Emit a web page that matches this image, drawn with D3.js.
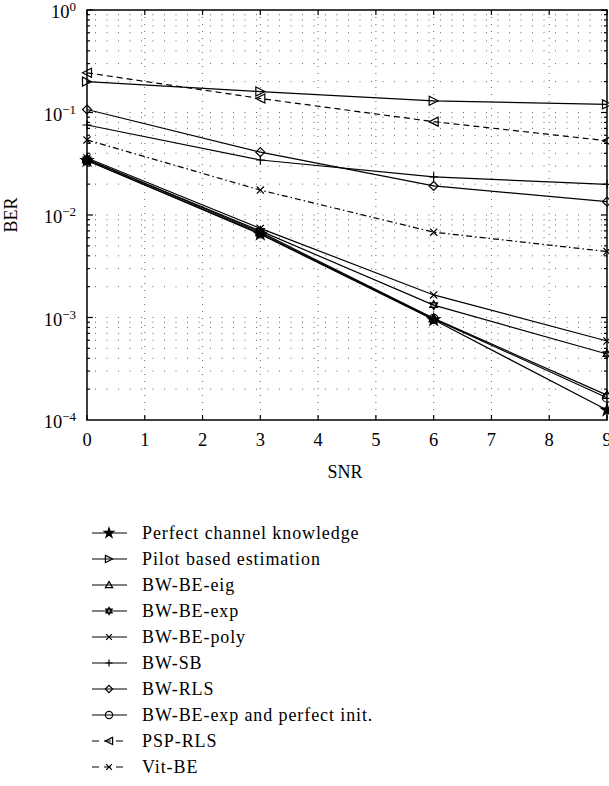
<!DOCTYPE html>
<html>
<head>
<meta charset="utf-8">
<script src="https://cdn.jsdelivr.net/npm/d3@7"></script>
<style>
  body { margin: 0; background: #fff; }
  svg text { font-family: "Liberation Serif", "DejaVu Serif", serif; fill: #000; }
</style>
</head>
<body>
<svg id="chart" width="609" height="786"></svg>
<script>
// SNR points where the curves were simulated
const snr = [0, 3, 6, 9]

// BER values
const perfect     = [0.034, 0.0065, 0.00095, 0.000125]
const pilot       = [0.200, 0.160, 0.130, 0.120]
const bwEig       = [0.035, 0.0068, 0.00098, 0.000175]
const bwExp       = [0.035, 0.0070, 0.00132, 0.00044]
const bwPoly      = [0.036, 0.0074, 0.00166, 0.00059]
const bwSB        = [0.0755, 0.0344, 0.0236, 0.0199]
const bwRLS       = [0.107, 0.041, 0.0192, 0.0135]
const bwExpInit   = [0.034, 0.0066, 0.00097, 0.000165]
const pspRLS      = [0.244, 0.137, 0.0814, 0.053]
const vitBE       = [0.054, 0.0175, 0.0068, 0.0044]

const names = ["Perfect channel knowledge", "Pilot based estimation", "BW-BE-eig", "BW-BE-exp",
  "BW-BE-poly", "BW-SB", "BW-RLS", "BW-BE-exp and perfect init.", "PSP-RLS", "Vit-BE"]
const values = [perfect, pilot, bwEig, bwExp, bwPoly, bwSB, bwRLS, bwExpInit, pspRLS, vitBE]
const markers = ["star", "triRight", "triUp", "hexagram", "cross", "plus", "diamond", "circle", "triLeft", "cross"]
const dashes = [null, null, null, null, null, null, null, null, "6,4", "6,3,1.5,3"]

const xTicks = [0, 1, 2, 3, 4, 5, 6, 7, 8, 9]
const yExps = [0, -1, -2, -3, -4]

const margin = {left: 87, right: 607, top: 10, bottom: 420}
const svg = d3.select("#chart")

const x = d3.scaleLinear().domain([0, 9]).range([margin.left, margin.right])
const y = d3.scaleLog().domain([1e-4, 1]).range([margin.bottom, margin.top])

// dotted grid: minor rows for every log step, columns at integers
const grid = svg.append("g").attr("stroke", "#000").attr("stroke-width", 1)
let rows = []
for (let e = -4; e < 0; e++) for (let m = 1; m < 10; m++) rows.push(m * Math.pow(10, e))
rows = rows.filter(v => v > 1e-4)
grid.selectAll("line.row").data(rows).join("line")
  .attr("x1", margin.left).attr("x2", margin.right)
  .attr("y1", d => y(d)).attr("y2", d => y(d))
  .attr("stroke-dasharray", "1,10.5").attr("stroke-dashoffset", -8)
  .attr("opacity", 0.6)
grid.selectAll("line.col").data(xTicks.slice(1, -1)).join("line")
  .attr("x1", d => x(d)).attr("x2", d => x(d))
  .attr("y1", margin.top).attr("y2", margin.bottom)
  .attr("stroke-dasharray", "1,6")
  .attr("opacity", 0.6)

// marker shapes
const mk = (type, r) => {
  const p = d3.path()
  if (type === "triRight") { p.moveTo(-r, -r); p.lineTo(r, 0); p.lineTo(-r, r); p.closePath() }
  else if (type === "triLeft") { p.moveTo(r, -r); p.lineTo(-r, 0); p.lineTo(r, r); p.closePath() }
  else if (type === "triUp") { p.moveTo(0, -r); p.lineTo(r, r * 0.75); p.lineTo(-r, r * 0.75); p.closePath() }
  else if (type === "hexagram") {
    p.moveTo(0, -r); p.lineTo(r * 0.87, r / 2); p.lineTo(-r * 0.87, r / 2); p.closePath()
    p.moveTo(0, r); p.lineTo(r * 0.87, -r / 2); p.lineTo(-r * 0.87, -r / 2); p.closePath()
  }
  else if (type === "cross") { p.moveTo(-r * 0.8, -r * 0.8); p.lineTo(r * 0.8, r * 0.8); p.moveTo(-r * 0.8, r * 0.8); p.lineTo(r * 0.8, -r * 0.8) }
  else if (type === "plus") { p.moveTo(-r, 0); p.lineTo(r, 0); p.moveTo(0, -r); p.lineTo(0, r) }
  else if (type === "diamond") { p.moveTo(0, -r); p.lineTo(r, 0); p.lineTo(0, r); p.lineTo(-r, 0); p.closePath() }
  else if (type === "circle") { p.moveTo(r, 0); p.arc(0, 0, r, 0, 2 * Math.PI) }
  else if (type === "star") return d3.symbol(d3.symbolStar, r * r * 2.2)()
  return p.toString()
}

const line = d3.line().x((d, i) => x(snr[i])).y(d => y(d))

const plot = svg.append("g")
values.forEach((vals, k) => {
  plot.append("path")
    .attr("d", line(vals))
    .attr("fill", "none").attr("stroke", "#000").attr("stroke-width", 1.2)
    .attr("stroke-dasharray", dashes[k])
  plot.selectAll(null).data(vals).join("path")
    .attr("transform", (d, i) => `translate(${x(snr[i])},${y(d)})`)
    .attr("d", mk(markers[k], 4.5))
    .attr("fill", markers[k] === "star" ? "#000" : "none")
    .attr("stroke", "#000").attr("stroke-width", 1.2)
})

// frame
svg.append("rect")
  .attr("x", margin.left).attr("y", margin.top)
  .attr("width", margin.right - margin.left).attr("height", margin.bottom - margin.top)
  .attr("fill", "none").attr("stroke", "#000").attr("stroke-width", 1.5)

// ticks pointing in, on all four sides
const ax = svg.append("g").attr("stroke", "#000").attr("stroke-width", 1.2)
ax.selectAll("line.bt").data(xTicks).join("line")
  .attr("x1", d => x(d)).attr("x2", d => x(d)).attr("y1", margin.bottom).attr("y2", margin.bottom - 5)
ax.selectAll("line.tt").data(xTicks).join("line")
  .attr("x1", d => x(d)).attr("x2", d => x(d)).attr("y1", margin.top).attr("y2", margin.top + 5)
ax.selectAll("line.ly").data(rows.concat([1])).join("line")
  .attr("x1", margin.left).attr("x2", d => margin.left + (Number.isInteger(Math.log10(d)) ? 6 : 3))
  .attr("y1", d => y(d)).attr("y2", d => y(d))
ax.selectAll("line.ry").data(rows.concat([1])).join("line")
  .attr("x1", margin.right).attr("x2", d => margin.right - (Number.isInteger(Math.log10(d)) ? 6 : 3))
  .attr("y1", d => y(d)).attr("y2", d => y(d))

// tick labels
svg.selectAll("text.xt").data(xTicks).join("text")
  .attr("x", d => x(d)).attr("y", 446)
  .attr("text-anchor", "middle").attr("font-size", 18.5)
  .text(d => d)

const yl = svg.selectAll("text.yt").data(yExps).join("text")
  .attr("x", 76).attr("y", d => y(Math.pow(10, d)) + 8)
  .attr("text-anchor", "end").attr("font-size", 18.5)
yl.append("tspan").text("10")
yl.append("tspan").attr("dy", -7).attr("font-size", 13).text(d => d === 0 ? "0" : "\u2212" + (-d))

svg.append("text").attr("x", 345).attr("y", 478)
  .attr("text-anchor", "middle").attr("font-size", 18).text("SNR")
svg.append("text").attr("transform", "translate(17,215) rotate(-90)")
  .attr("text-anchor", "middle").attr("font-size", 18).text("BER")

// legend
const lg = svg.append("g").attr("transform", "translate(0,533)")
names.forEach((n, k) => {
  const g = lg.append("g").attr("transform", `translate(0,${k * 26})`)
  g.append("line").attr("x1", 92).attr("x2", 127).attr("y1", 0).attr("y2", 0)
    .attr("stroke", "#000").attr("stroke-width", 1.2)
    .attr("stroke-dasharray", dashes[k] ? "7,5" : null)
  g.append("path").attr("transform", "translate(109,0)")
    .attr("d", mk(markers[k], 3.6))
    .attr("fill", markers[k] === "star" ? "#000" : "none")
    .attr("stroke", "#000").attr("stroke-width", 1.2)
  g.append("text").attr("x", 142).attr("y", 6).attr("font-size", 18)
    .attr("letter-spacing", 0.9).text(n)
})
</script>
</body>
</html>
